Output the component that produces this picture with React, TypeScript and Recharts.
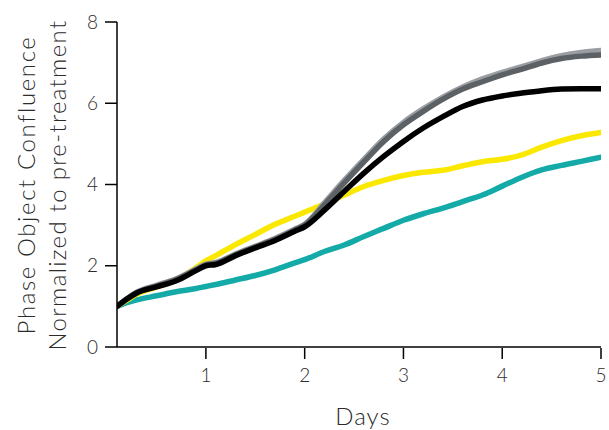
import React from "react";
import { LineChart, Line, XAxis, YAxis, Label } from "recharts";

const days = [0.1, 0.2, 0.3, 0.5, 0.7, 0.9, 1.0, 1.1, 1.3, 1.5, 1.7, 1.9, 2.0, 2.2, 2.4, 2.6, 2.8, 3.0, 3.2, 3.4, 3.6, 3.8, 4.0, 4.2, 4.4, 4.6, 4.8, 5.0];
const black = [1.0, 1.18, 1.33, 1.48, 1.63, 1.88, 2.0, 2.03, 2.25, 2.44, 2.62, 2.85, 2.96, 3.37, 3.83, 4.28, 4.69, 5.06, 5.39, 5.67, 5.92, 6.08, 6.18, 6.25, 6.31, 6.35, 6.36, 6.36];
const darkGray = [1.0, 1.18, 1.34, 1.5, 1.66, 1.9, 2.02, 2.06, 2.27, 2.46, 2.65, 2.88, 3.0, 3.5, 4.04, 4.56, 5.06, 5.47, 5.8, 6.1, 6.35, 6.53, 6.7, 6.84, 6.99, 7.1, 7.16, 7.19];
const lightGray = [1.0, 1.19, 1.35, 1.52, 1.68, 1.92, 2.04, 2.08, 2.29, 2.48, 2.67, 2.9, 3.02, 3.55, 4.1, 4.62, 5.12, 5.53, 5.86, 6.15, 6.4, 6.6, 6.76, 6.9, 7.05, 7.17, 7.25, 7.3];
const yellow = [1.0, 1.15, 1.3, 1.48, 1.66, 1.95, 2.12, 2.25, 2.52, 2.77, 3.02, 3.22, 3.32, 3.52, 3.74, 3.95, 4.1, 4.22, 4.3, 4.35, 4.46, 4.56, 4.62, 4.73, 4.92, 5.08, 5.2, 5.28];
const teal = [1.0, 1.09, 1.16, 1.26, 1.36, 1.44, 1.49, 1.54, 1.65, 1.76, 1.9, 2.07, 2.15, 2.35, 2.51, 2.72, 2.92, 3.12, 3.28, 3.42, 3.58, 3.74, 3.96, 4.18, 4.36, 4.47, 4.57, 4.67];

const yTicks = [0, 2, 4, 6, 8];
const xMajorTicks = [1, 2, 3, 4, 5];
const xMinorTicks: number[] = [];
for (let k = 1; k <= 50; k++) xMinorTicks.push(k / 10);

const data = days.map((d, i) => ({
  day: d,
  black: black[i],
  darkGray: darkGray[i],
  lightGray: lightGray[i],
  yellow: yellow[i],
  teal: teal[i],
}));

const FONT = "Lato, 'Open Sans', sans-serif";
const TEXT = "#2b2b2b";

const YTitle = () => (
  <g>
    <text transform="translate(35,185) rotate(-90)" textAnchor="middle" fontFamily={FONT} fontWeight={300} fontSize={24} letterSpacing={1.6} fill={TEXT}>
      Phase Object Confluence
    </text>
    <text transform="translate(66,185) rotate(-90)" textAnchor="middle" fontFamily={FONT} fontWeight={300} fontSize={24} letterSpacing={1.3} fill={TEXT}>
      Normalized to pre-treatment
    </text>
  </g>
);

const lineProps = {
  type: "monotone" as const,
  dot: false,
  isAnimationActive: false,
  strokeWidth: 5.5,
  strokeLinecap: "round" as const,
  strokeLinejoin: "round" as const,
};

export default function App() {
  return (
    <div style={{ position: "absolute", left: 0, top: 0, width: 609, height: 430 }}>
      <LineChart width={609} height={430} data={data} margin={{ top: 22, right: 8, bottom: 0, left: 0 }}>
        <XAxis
          xAxisId="b"
          type="number"
          dataKey="day"
          domain={[0.1, 5]}
          ticks={xMajorTicks}
          interval={0}
          tickSize={11}
          tickMargin={10}
          height={82}
          tickLine={{ stroke: "#000", strokeWidth: 1.5 }}
          axisLine={false}
          tick={{ fontFamily: FONT, fontWeight: 300, fontSize: 19, fill: TEXT }}
          allowDataOverflow
        >
          <Label
            content={() => (
              <text x={363} y={425} textAnchor="middle" fontFamily={FONT} fontWeight={300} fontSize={24} letterSpacing={1} fill={TEXT}>
                Days
              </text>
            )}
          />
        </XAxis>
        <XAxis
          xAxisId="a"
          type="number"
          dataKey="day"
          domain={[0.1, 5]}
          ticks={xMinorTicks}
          interval={0}
          tickSize={2.5}
          tick={false}
          height={1}
          tickLine={{ stroke: "#000", strokeWidth: 1.5 }}
          axisLine={{ stroke: "#000", strokeWidth: 1.5 }}
          allowDataOverflow
        />
        <YAxis
          type="number"
          domain={[0, 8]}
          ticks={yTicks}
          interval={0}
          width={117}
          tickSize={12}
          tickMargin={7}
          tickLine={{ stroke: "#000", strokeWidth: 1.5 }}
          axisLine={{ stroke: "#000", strokeWidth: 1.5 }}
          tick={{ fontFamily: FONT, fontWeight: 300, fontSize: 19, fill: TEXT }}
        >
          <Label content={() => <YTitle />} />
        </YAxis>
        <Line {...lineProps} xAxisId="a" dataKey="teal" stroke="#14aaa8" />
        <Line {...lineProps} xAxisId="a" dataKey="yellow" stroke="#fbe800" />
        <Line {...lineProps} xAxisId="a" dataKey="lightGray" stroke="#9a9ea3" />
        <Line {...lineProps} xAxisId="a" dataKey="darkGray" stroke="#5b6165" />
        <Line {...lineProps} xAxisId="a" dataKey="black" stroke="#000000" />
      </LineChart>
    </div>
  );
}
